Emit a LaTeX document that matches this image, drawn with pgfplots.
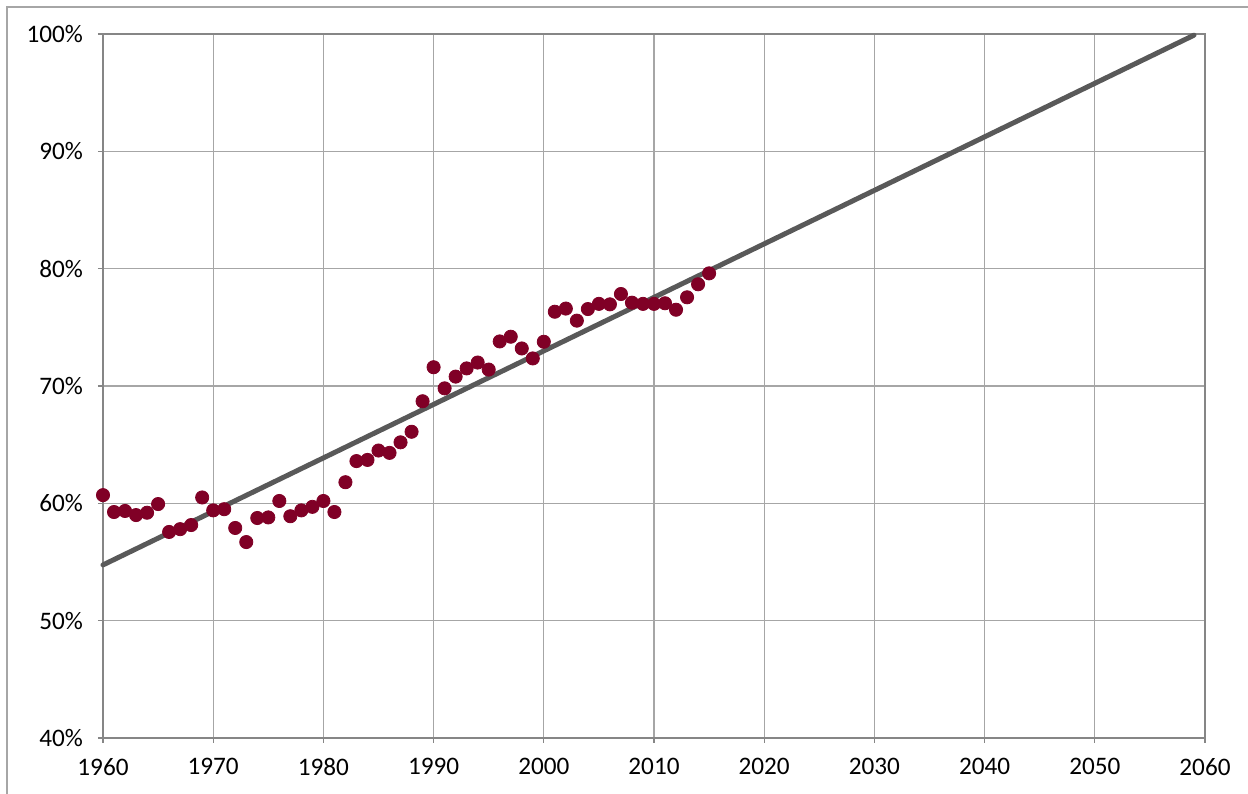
\documentclass[border=0pt]{standalone}
\usepackage{fontspec}
\setmainfont{Carlito}
\usepackage{pgfplots}
\pgfplotsset{compat=1.18}
\definecolor{dotred}{RGB}{128,0,38}
\definecolor{trend}{RGB}{89,89,89}
\definecolor{gridc}{RGB}{166,166,166}
\definecolor{axc}{RGB}{134,134,134}
\begin{document}
\begin{tikzpicture}
\useasboundingbox (-51.5pt,-27.5pt) rectangle (572.5pt,369pt);
\draw[gridc, line width=0.6pt] (-48pt,-40pt) -- (-48pt,365.5pt) -- (600pt,365.5pt);
\begin{axis}[
  at={(0pt,0pt)}, anchor=south west,
  scale only axis, width=551pt, height=352pt,
  xmin=1960, xmax=2060, ymin=40, ymax=100,
  xtick distance=10, ytick distance=10,
  grid=major,
  grid style={gridc, line width=0.6pt},
  axis line style={axc, line width=0.6pt},
  tick style={axc, line width=0.6pt},
  tick align=outside, tick pos=left, major tick length=2.5pt,
  /pgf/number format/1000 sep={},
  /pgf/number format/assume math mode=true,
  tick label style={font=\fontsize{12.6}{14}\selectfont, black},
  yticklabel={\pgfmathprintnumber{\tick}\%},
  yticklabel style={xshift=-4pt},
  xticklabel style={yshift=-4pt},
  clip=false,
]
\addplot[trend, line width=2.5pt, line cap=round] coordinates {(1960,54.75) (2059,99.9)};
\addplot[only marks, mark=*, mark size=3.3pt, mark options={fill=dotred, draw=dotred}] coordinates {
(1960,60.7) (1961,59.26) (1962,59.35) (1963,59.0) (1964,59.2) (1965,59.94)
(1966,57.56) (1967,57.8) (1968,58.15) (1969,60.5) (1970,59.4) (1971,59.5)
(1972,57.9) (1973,56.7) (1974,58.75) (1975,58.8) (1976,60.2) (1977,58.9)
(1978,59.4) (1979,59.7) (1980,60.2) (1981,59.26) (1982,61.8) (1983,63.6)
(1984,63.7) (1985,64.5) (1986,64.3) (1987,65.2) (1988,66.1) (1989,68.7)
(1990,71.6) (1991,69.8) (1992,70.8) (1993,71.5) (1994,72.0) (1995,71.4)
(1996,73.8) (1997,74.2) (1998,73.2) (1999,72.35) (2000,73.77) (2001,76.33)
(2002,76.6) (2003,75.57) (2004,76.56) (2005,77.0) (2006,76.96) (2007,77.84)
(2008,77.1) (2009,77.0) (2010,77.0) (2011,77.05) (2012,76.5) (2013,77.56)
(2014,78.67) (2015,79.6)
};
\end{axis}
\end{tikzpicture}
\end{document}
